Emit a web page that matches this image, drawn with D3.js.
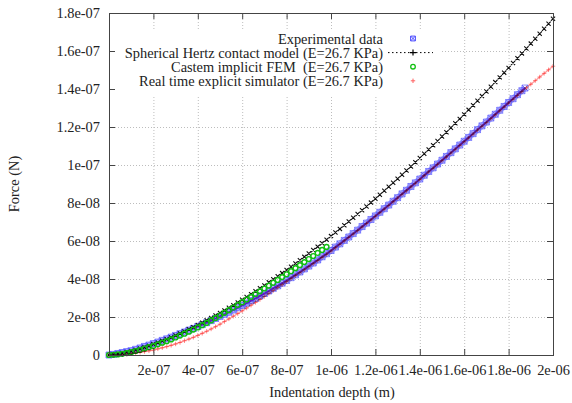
<!DOCTYPE html>
<html>
<head>
<meta charset="utf-8">
<script src="https://cdn.jsdelivr.net/npm/d3@7"></script>
<style>
  body { margin: 0; background: #fff; }
  svg text { font-family: "Liberation Serif", "DejaVu Serif", serif; fill: #222; white-space: pre; }
</style>
</head>
<body>
<svg id="chart" width="572" height="403"></svg>
<script>
// depth in nm, force in nN (axis labels are written in metres / newtons)
const depthNm = [
  0, 20, 40, 60, 80, 100, 120, 140, 160, 180,
  200, 220, 240, 260, 280, 300, 320, 340, 360, 380,
  400, 420, 440, 460, 480, 500, 520, 540, 560, 580,
  600, 620, 640, 660, 680, 700, 720, 740, 760, 780,
  800, 820, 840, 860, 880, 900, 920, 940, 960, 980,
  1000, 1020, 1040, 1060, 1080, 1100, 1120, 1140, 1160, 1180,
  1200, 1220, 1240, 1260, 1280, 1300, 1320, 1340, 1360, 1380,
  1400, 1420, 1440, 1460, 1480, 1500, 1520, 1540, 1560, 1580,
  1600, 1620, 1640, 1660, 1680, 1700, 1720, 1740, 1760, 1780,
  1800, 1820, 1840, 1860, 1880, 1900, 1920, 1940, 1960, 1980,
  2000
];

const hertzForce = [
  0, 0.18, 0.50, 0.92, 1.42, 1.98, 2.60, 3.28, 4.00, 4.78,
  5.60, 6.46, 7.36, 8.30, 9.27, 10.28, 11.33, 12.41, 13.52, 14.66,
  15.83, 17.03, 18.26, 19.52, 20.81, 22.13, 23.47, 24.83, 26.22, 27.64,
  29.08, 30.55, 32.04, 33.55, 35.09, 36.65, 38.23, 39.84, 41.46, 43.11,
  44.78, 46.47, 48.18, 49.91, 51.66, 53.43, 55.22, 57.03, 58.86, 60.71,
  62.58, 64.47, 66.37, 68.30, 70.24, 72.20, 74.17, 76.17, 78.18, 80.21,
  82.26, 84.33, 86.41, 88.51, 90.62, 92.76, 94.91, 97.07, 99.25, 101.45,
  103.66, 105.89, 108.14, 110.40, 112.67, 114.97, 117.27, 119.59, 121.93, 124.28,
  126.65, 129.03, 131.43, 133.84, 136.27, 138.71, 141.16, 143.63, 146.12, 148.61,
  151.12, 153.65, 156.19, 158.74, 161.31, 163.89, 166.49, 169.10, 171.72, 174.35,
  177.00
];

const expDepthNm = depthNm.slice(0, 94).concat([1874]);
const expForce = [
  0, 0.3, 0.8, 1.3, 1.8, 2.3, 3.0, 3.7, 4.5, 5.2,
  6.0, 6.8, 7.7, 8.5, 9.4, 10.3, 11.2, 12.1, 13.1, 14.0,
  15.0, 16.0, 17.0, 18.1, 19.2, 20.3, 21.4, 22.5, 23.7, 24.9,
  26.1, 27.3, 28.6, 29.8, 31.1, 32.4, 33.7, 35.1, 36.4, 37.8,
  39.2, 40.7, 42.2, 43.7, 45.3, 46.8, 48.4, 50.0, 51.7, 53.3,
  55.0, 56.8, 58.5, 60.3, 62.1, 63.9, 65.7, 67.6, 69.4, 71.3,
  73.2, 75.1, 77.0, 78.9, 80.9, 82.8, 84.8, 86.7, 88.7, 90.6,
  92.6, 94.6, 96.6, 98.5, 100.5, 102.5, 104.5, 106.5, 108.5, 110.5,
  112.5, 114.5, 116.5, 118.6, 120.6, 122.6, 124.7, 126.7, 128.8, 130.8,
  132.9, 134.9, 137.0, 139.1,
  140.5
];

const femDepthNm = depthNm.slice(0, 50);
const femForce = [
  0, 0.1, 0.3, 0.6, 1.0, 1.5, 2.1, 2.7, 3.4, 4.1,
  4.8, 5.6, 6.5, 7.3, 8.2, 9.2, 10.2, 11.2, 12.3, 13.4,
  14.5, 15.7, 16.9, 18.2, 19.5, 20.8, 22.2, 23.6, 25.0, 26.4,
  27.8, 29.2, 30.6, 32.1, 33.5, 35.0, 36.5, 38.0, 39.5, 41.0,
  42.5, 44.1, 45.7, 47.3, 48.9, 50.5, 52.1, 53.7, 55.3, 56.9
];

const simForce = [
  0, 0.05, 0.15, 0.3, 0.55, 0.8, 1.1, 1.4, 1.8, 2.2,
  2.6, 3.2, 3.8, 4.4, 5.1, 5.8, 6.6, 7.5, 8.4, 9.3,
  10.3, 11.4, 12.5, 13.7, 14.9, 16.2, 17.6, 19.0, 20.4, 21.8,
  23.2, 24.7, 26.2, 27.7, 29.2, 30.8, 32.4, 33.9, 35.5, 37.0,
  38.6, 40.2, 41.8, 43.3, 44.9, 46.5, 48.1, 49.7, 51.4, 53.0,
  54.7, 56.5, 58.3, 60.1, 61.9, 63.7, 65.5, 67.4, 69.2, 71.1,
  73.0, 74.9, 76.8, 78.7, 80.7, 82.6, 84.6, 86.5, 88.5, 90.4,
  92.4, 94.4, 96.4, 98.3, 100.3, 102.3, 104.3, 106.3, 108.3, 110.3,
  112.3, 114.3, 116.3, 118.4, 120.4, 122.4, 124.4, 126.5, 128.5, 130.5,
  132.6, 134.6, 136.6, 138.6, 140.6, 142.5, 144.4, 146.3, 148.2, 150.1,
  152.0
];

const xTicks = [0, 200, 400, 600, 800, 1000, 1200, 1400, 1600, 1800, 2000];
const xTickLabels = ["", "2e-07", "4e-07", "6e-07", "8e-07", "1e-06", "1.2e-06", "1.4e-06", "1.6e-06", "1.8e-06", "2e-06"];
const yTicks = [0, 20, 40, 60, 80, 100, 120, 140, 160, 180];
const yTickLabels = ["0", "2e-08", "4e-08", "6e-08", "8e-08", "1e-07", "1.2e-07", "1.4e-07", "1.6e-07", "1.8e-07"];

const legendLabels = [
  "Experimental data",
  "Spherical Hertz contact model (E=26.7 KPa)",
  "Castem implicit FEM  (E=26.7 KPa)",
  "Real time explicit simulator (E=26.7 KPa)"
];

const svg = d3.select("#chart");
const plot = { left: 109, right: 553, top: 13, bottom: 355 };
const fontSize = 14.4;

const x = d3.scaleLinear().domain([0, 2000]).range([plot.left, plot.right]);
const y = d3.scaleLinear().domain([0, 180]).range([plot.bottom, plot.top]);

// grid
const grid = svg.append("g")
    .attr("stroke", "#bdbdbd")
    .attr("stroke-width", 1)
    .attr("stroke-dasharray", "1,2");
grid.selectAll(".vg")
    .data(xTicks.slice(1, -1))
    .enter().append("line")
    .attr("x1", d => x(d) + 0.5).attr("x2", d => x(d) + 0.5)
    .attr("y1", plot.top).attr("y2", plot.bottom);
grid.selectAll(".hg")
    .data(yTicks.slice(1, -1))
    .enter().append("line")
    .attr("x1", plot.left).attr("x2", plot.right)
    .attr("y1", d => y(d) + 0.5).attr("y2", d => y(d) + 0.5);

// key background hides the grid
svg.append("rect")
    .attr("x", 112).attr("y", 30)
    .attr("width", 328).attr("height", 66)
    .attr("fill", "#fff");

// marker shapes
const boxX = (cx, cy, s) =>
  `M${cx - s},${cy - s}h${2 * s}v${2 * s}h${-2 * s}Z` +
  `M${cx - s},${cy - s}L${cx + s},${cy + s}M${cx + s},${cy - s}L${cx - s},${cy + s}`;
const cross = (cx, cy, s) =>
  `M${cx - s},${cy - s}L${cx + s},${cy + s}M${cx + s},${cy - s}L${cx - s},${cy + s}`;
const plus = (cx, cy, s) => `M${cx - s},${cy}h${2 * s}M${cx},${cy - s}v${2 * s}`;

const lineOf = (xs) => d3.line().x((f, i) => x(xs[i])).y(f => y(f));

const dataG = svg.append("g").style("isolation", "isolate");

// experimental data: dense points, drawn as a band of boxes
dataG.append("path")
    .attr("fill", "none")
    .attr("stroke", "#8f8fff")
    .attr("stroke-width", 6)
    .attr("opacity", 0.75)
    .attr("d", lineOf(expDepthNm)(expForce));
dataG.append("path")
    .attr("fill", "none")
    .attr("stroke", "#4a4aff")
    .attr("stroke-width", 0.8)
    .attr("opacity", 0.8)
    .attr("d", expForce.map((f, i) => boxX(x(expDepthNm[i]), y(f), 3)).join(""));
dataG.append("path")
    .attr("fill", "none")
    .attr("stroke", "#5a1ec0")
    .attr("stroke-width", 1.8)
    .attr("d", lineOf(expDepthNm)(expForce));

// Hertz model
dataG.append("path")
    .attr("fill", "none")
    .attr("stroke", "#000")
    .attr("stroke-width", 0.8)
    .attr("stroke-dasharray", "1,3")
    .attr("d", lineOf(depthNm)(hertzForce));
dataG.append("path")
    .attr("fill", "none")
    .attr("stroke", "#111")
    .attr("stroke-width", 1.1)
    .attr("d", hertzForce.map((f, i) => cross(x(depthNm[i]), y(f), 2.1)).join(""));

// Castem FEM
dataG.selectAll(".fem")
    .data(femForce)
    .enter().append("circle")
    .attr("cx", (f, i) => x(femDepthNm[i]))
    .attr("cy", f => y(f))
    .attr("r", 2.4)
    .attr("fill", "none")
    .attr("stroke", "#10c010")
    .attr("stroke-width", 1.4);

// explicit simulator, blended so it turns purple over the experimental band
dataG.append("path")
    .attr("fill", "none")
    .attr("stroke", "#ff5a5a")
    .attr("stroke-width", 1.3)
    .attr("opacity", 0.6)
    .style("mix-blend-mode", "multiply")
    .attr("d", lineOf(depthNm)(simForce));
dataG.append("path")
    .attr("fill", "none")
    .attr("stroke", "#ff6060")
    .attr("stroke-width", 0.9)
    .attr("opacity", 0.85)
    .style("mix-blend-mode", "multiply")
    .attr("d", simForce.map((f, i) => plus(x(depthNm[i]), y(f), 2.2)).join(""));

// axes with inward ticks on all four sides
const fmtX = (d, i) => xTickLabels[i];
const fmtY = (d, i) => yTickLabels[i];

const bottomAxis = svg.append("g")
    .attr("transform", `translate(0,${plot.bottom})`)
    .call(d3.axisBottom(x).tickValues(xTicks).tickFormat(fmtX).tickSize(-6).tickPadding(10));
const leftAxis = svg.append("g")
    .attr("transform", `translate(${plot.left},0)`)
    .call(d3.axisLeft(y).tickValues(yTicks).tickFormat(fmtY).tickSize(-6).tickPadding(9));
const topAxis = svg.append("g")
    .attr("transform", `translate(0,${plot.top})`)
    .call(d3.axisTop(x).tickValues(xTicks).tickFormat("").tickSize(-6));
const rightAxis = svg.append("g")
    .attr("transform", `translate(${plot.right},0)`)
    .call(d3.axisRight(y).tickValues(yTicks).tickFormat("").tickSize(-6));

[bottomAxis, leftAxis, topAxis, rightAxis].forEach(g => {
  g.select(".domain").remove();
  g.selectAll(".tick line").attr("stroke", "#444");
  g.selectAll("text")
      .attr("font-family", "Liberation Serif, serif")
      .attr("font-size", fontSize)
      .attr("fill", "#222");
});

svg.append("rect")
    .attr("x", plot.left + 0.5).attr("y", plot.top + 0.5)
    .attr("width", plot.right - plot.left).attr("height", plot.bottom - plot.top)
    .attr("fill", "none")
    .attr("stroke", "#444")
    .attr("stroke-width", 1);

// axis titles
svg.append("text")
    .attr("x", 332).attr("y", 397)
    .attr("text-anchor", "middle")
    .attr("font-size", fontSize)
    .text("Indentation depth (m)");
svg.append("text")
    .attr("transform", "translate(19,184) rotate(-90)")
    .attr("text-anchor", "middle")
    .attr("font-size", fontSize)
    .text("Force (N)");

// key
const keyY = [38.5, 52.6, 66.7, 80.8];
const key = svg.append("g");
key.selectAll("text")
    .data(legendLabels)
    .enter().append("text")
    .attr("x", 383)
    .attr("y", (d, i) => keyY[i])
    .attr("dy", "0.35em")
    .attr("text-anchor", "end")
    .attr("font-size", fontSize)
    .text(d => d);

const keyX = 413;
key.append("path")
    .attr("fill", "none").attr("stroke", "#4a4aff").attr("stroke-width", 1)
    .attr("d", boxX(keyX, keyY[0], 2.4));
key.append("line")
    .attr("x1", 388).attr("x2", 433)
    .attr("y1", keyY[1]).attr("y2", keyY[1])
    .attr("stroke", "#000").attr("stroke-width", 1)
    .attr("stroke-dasharray", "1.5,2.5");
key.append("path")
    .attr("fill", "none").attr("stroke", "#000").attr("stroke-width", 1.2)
    .attr("d", plus(keyX, keyY[1], 3));
key.append("circle")
    .attr("cx", keyX).attr("cy", keyY[2]).attr("r", 2.3)
    .attr("fill", "none").attr("stroke", "#10c010").attr("stroke-width", 1.3);
key.append("path")
    .attr("fill", "none").attr("stroke", "#ff6060").attr("stroke-width", 1)
    .attr("d", plus(keyX, keyY[3], 2.2));
</script>
</body>
</html>
